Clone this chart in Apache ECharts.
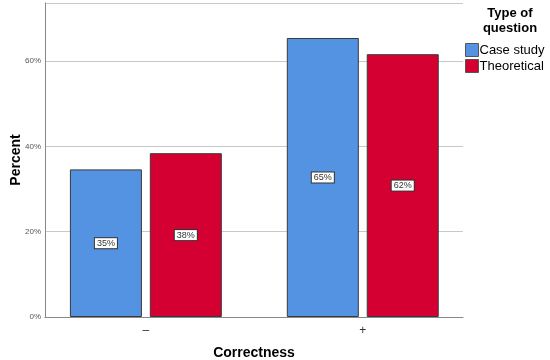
<!DOCTYPE html>
<html>
<head>
<meta charset="utf-8">
<script src="https://cdn.jsdelivr.net/npm/echarts@6/dist/echarts.min.js"></script>
<style>
html,body{margin:0;padding:0;background:#fff;}
#chart{width:550px;height:360px;}
</style>
</head>
<body>
<div id="chart"></div>
<script>
var categories = ['–', '+'];
var seriesNames = ['Case study', 'Theoretical'];
var caseStudy = [34.6, 65.4];
var theoretical = [38.4, 61.6];
var valueLabels = [['35%', '65%'], ['38%', '62%']];
var yTicks = [0, 20, 40, 60];

var chart = echarts.init(document.getElementById('chart'), null, {renderer: 'canvas'});
var colors = ['#5493e1', '#d50032'];
var font = 'Liberation Sans, Arial, sans-serif';

function mk(name, vals, idx) {
  return {
    name: name,
    type: 'bar',
    barWidth: 72,
    barGap: '11%',
    data: vals.map(function (v, i) { return [i, v]; }),
    itemStyle: {color: colors[idx], borderColor: '#3a3a3a', borderWidth: 1},
    label: {
      show: true,
      position: 'inside',
      formatter: function (p) { return valueLabels[idx][p.dataIndex]; },
      backgroundColor: '#fff',
      borderColor: '#333',
      borderWidth: 1,
      padding: [1, 2, 0, 2],
      color: '#333',
      fontSize: 9,
      fontFamily: font
    }
  };
}

chart.setOption({
  animation: false,
  grid: {left: 45, right: 87, top: 3, bottom: 43, containLabel: false, outerBoundsMode: 'none'},
  title: {
    text: 'Type of\nquestion',
    left: 505, top: 1, textAlign: 'center',
    textStyle: {fontSize: 13, fontWeight: 'bold', fontFamily: font, color: '#000', lineHeight: 15}
  },
  legend: {
    orient: 'vertical',
    left: 460, top: 38,
    itemWidth: 13, itemHeight: 13, itemGap: 2,
    icon: 'rect',
    textStyle: {fontSize: 13, fontFamily: font, color: '#000', padding: [0, 0, 0, -4]},
    data: seriesNames.map(function (n, i) { return {name: n, itemStyle: {color: colors[i], borderColor: '#555', borderWidth: 1}}; })
  },
  xAxis: {
    type: 'value',
    min: -0.465,
    max: 1.462,
    splitNumber: 2,
    splitLine: {show: false},
    axisTick: {show: false},
    axisLine: {show: true, onZero: false, lineStyle: {color: '#888', width: 1}},
    axisLabel: {
      showMinLabel: false, showMaxLabel: false,
      formatter: function (v) {
        if (Math.abs(v) < 1e-6) return categories[0];
        if (Math.abs(v - 1) < 1e-6) return categories[1];
        return '';
      },
      color: '#333', fontSize: 12, fontFamily: font, margin: 8
    },
    name: 'Correctness',
    nameLocation: 'middle',
    nameGap: 29,
    nameMoveOverlap: false,
    nameTextStyle: {fontSize: 14, fontWeight: 'bold', color: '#000', fontFamily: font}
  },
  yAxis: {
    type: 'value',
    min: 0, max: 73.6, interval: 20,
    axisLine: {show: true, onZero: false, lineStyle: {color: '#888', width: 1}},
    axisTick: {show: false},
    splitLine: {show: true, lineStyle: {color: '#c8c8c8', width: 1}},
    axisLabel: {
      showMaxLabel: false,
      formatter: function (v) { return yTicks.indexOf(v) >= 0 ? v + '%' : ''; },
      color: '#555', fontSize: 8, fontFamily: font, margin: 4
    },
    name: 'Percent',
    nameLocation: 'middle',
    nameGap: 22,
    nameMoveOverlap: false,
    nameTextStyle: {fontSize: 14, fontWeight: 'bold', color: '#000', fontFamily: font}
  },
  series: [mk(seriesNames[0], caseStudy, 0), mk(seriesNames[1], theoretical, 1)]
});
</script>
</body>
</html>
